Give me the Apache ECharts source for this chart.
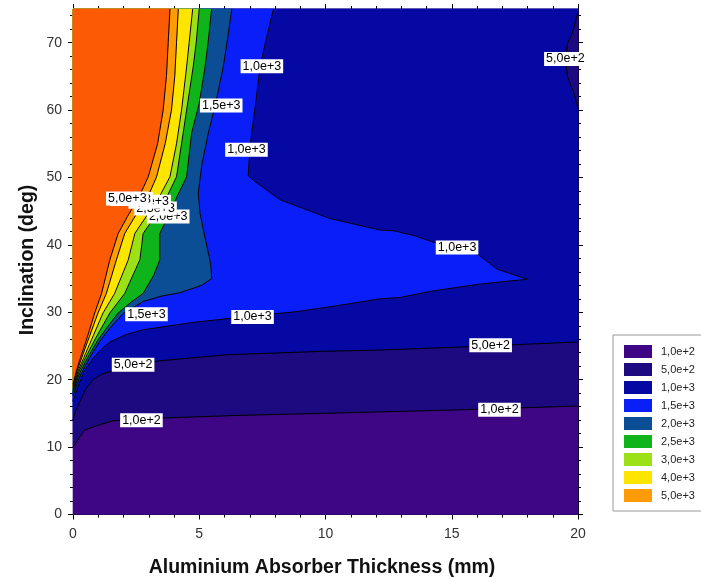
<!DOCTYPE html>
<html><head><meta charset="utf-8">
<script src="https://cdn.jsdelivr.net/npm/echarts/dist/echarts.min.js"></script>
<style>html,body{margin:0;padding:0;background:#fff}#c{width:701px;height:578px}</style>
</head><body><div id="c"></div>
<script>
// ---- data ----
const levelNames = ['1,0e+2','5,0e+2','1,0e+3','1,5e+3','2,0e+3','2,5e+3','3,0e+3','4,0e+3','5,0e+3'];
const bandColors = ['#3e0685','#1e0a80','#0508a2','#0a1ef8','#0b4e96','#0eb41a','#9be116','#fde500','#fe9b05'];
const topColor = '#fc5a04';
const xTicks = [0,5,10,15,20];
const yTickLabels = [0,10,20,30,40,50,60,70];
const yMinorTicks = [2,4,6,8,12,14,16,18,22,24,26,28,32,34,36,38,42,44,46,48,52,54,56,58,62,64,66,68,72,74];

// contour lines [thickness mm, inclination deg]
const c100 = [[0,10.0],[0.27,11.5],[0.46,12.5],[0.79,13.0],[1.59,13.9],[3.44,14.3],[6.5,14.7],[9.79,15.0],[15.07,15.5],[20,16.1]];
const c500 = [[0,14.0],[0.1,15.3],[0.27,16.7],[0.5,18.6],[0.79,20.0],[1.19,20.9],[2.2,22.0],[3.44,22.8],[6.09,23.7],[9.79,24.2],[12.17,24.4],[15.7,24.9],[20,25.6]];
const c500corner = [[20,60.3],[19.84,62.5],[19.58,65.0],[19.51,67.4],[19.58,69.9],[19.78,71.4],[20,74.6]];
const c1000 = [[0,16.8],[0.2,19.0],[0.45,21.3],[0.8,23.2],[1.15,24.6],[1.46,25.6],[2.1,26.7],[2.78,27.4],[3.84,28.0],[4.76,28.5],[6.22,29.1],[7.5,29.6],[8.87,30.1],[10.5,31.0],[12.17,32.0],[12.96,32.2],[14.15,33.1],[16.14,34.2],[17.99,34.9],[16.8,36.4],[16.07,38.5],[15.2,39.6],[14.28,40.4],[13.5,41.4],[12.7,42.1],[12.17,42.2],[10.19,43.9],[8.2,46.7],[7.14,49.6],[6.94,50.3],[7.0,54.0],[7.08,56.6],[7.25,61.5],[7.41,66.4],[7.65,70.5],[7.94,75]];
const c1500 = [[0,17.6],[0.3,20.7],[0.7,23.5],[1.1,25.9],[1.5,27.8],[1.98,29.8],[2.78,31.6],[3.5,32.4],[4.23,32.9],[5.1,34.0],[5.49,35.0],[5.47,36.5],[5.42,37.8],[5.25,40.7],[5.03,44.7],[4.96,47.7],[5.1,51.8],[5.36,56.6],[5.65,61.0],[5.95,66.4],[6.1,70.0],[6.29,75]];
const c2000 = [[0,18.1],[0.25,20.9],[0.6,23.4],[0.99,25.9],[1.4,28.0],[1.79,29.9],[2.3,31.5],[2.78,32.8],[3.2,35.5],[3.44,37.8],[3.44,41.7],[3.8,44.5],[4.1,47.0],[4.5,50.1],[4.7,56.6],[5.0,61.0],[5.23,66.4],[5.35,70.0],[5.49,75]];
const c2500 = [[0,18.4],[0.22,21.1],[0.5,23.3],[0.86,25.9],[1.46,29.9],[2.05,32.8],[2.65,37.8],[2.78,41.7],[3.3,44.5],[3.7,47.0],[4.1,50.1],[4.3,55.0],[4.5,60.0],[4.76,66.4],[4.88,70.0],[5.0,75]];
const c3000 = [[0,18.7],[0.2,21.3],[0.42,23.2],[0.73,25.9],[1.19,29.9],[1.65,32.8],[2.19,37.8],[2.45,41.7],[2.95,44.5],[3.4,47.0],[3.84,50.1],[4.1,55.0],[4.3,60.0],[4.5,66.4],[4.6,70.0],[4.74,75]];
const c4000 = [[0,19.0],[0.17,21.4],[0.35,23.3],[0.6,25.9],[0.99,29.9],[1.32,32.8],[1.72,37.8],[2.05,41.7],[2.5,44.5],[2.95,47.0],[3.31,50.1],[3.65,55.0],[3.9,60.0],[4.03,65.0],[4.1,70.0],[4.17,75]];
const c5000 = [[0,19.3],[0.15,21.5],[0.3,23.3],[0.53,25.9],[0.86,29.9],[1.13,32.8],[1.46,37.8],[1.79,41.7],[2.2,44.5],[2.6,47.0],[2.98,50.1],[3.35,55.0],[3.57,60.0],[3.7,65.0],[3.77,70.0],[3.84,75]];

// contour labels [x, y, text]
const contourLabels = [
  [2.71,14.0,'1,0e+2'],[16.89,15.55,'1,0e+2'],
  [2.38,22.2,'5,0e+2'],[16.54,25.1,'5,0e+2'],[19.5,67.6,'5,0e+2'],
  [7.11,29.3,'1,0e+3'],[15.21,39.6,'1,0e+3'],[6.87,54.1,'1,0e+3'],[7.48,66.5,'1,0e+3'],
  [2.91,29.7,'1,5e+3'],[5.87,60.7,'1,5e+3'],
  [3.77,44.2,'2,0e+3'],[3.27,45.4,'2,5e+3'],[3.04,46.4,'3,0e+3'],[2.32,46.8,'4,0e+3'],[2.15,46.9,'5,0e+3']
];

// ---- chart ----
const FF = '"Liberation Sans", Arial, sans-serif';
const corner = [[20,75],[0,75]];
const regions = [
  {name: levelNames[0], color: bandColors[0], pts: [[0,0],[20,0],[20,75],[0,75]]},
  {name: levelNames[1], color: bandColors[1], pts: c100.concat(corner)},
  {name: levelNames[2], color: bandColors[2], pts: c500.concat(c500corner, corner)},
  {name: levelNames[3], color: bandColors[3], pts: c1000.concat([[0,75]])},
  {name: levelNames[4], color: bandColors[4], pts: c1500.concat([[0,75]])},
  {name: levelNames[5], color: bandColors[5], pts: c2000.concat([[0,75]])},
  {name: levelNames[6], color: bandColors[6], pts: c2500.concat([[0,75]])},
  {name: levelNames[7], color: bandColors[7], pts: c3000.concat([[0,75]])},
  {name: levelNames[8], color: bandColors[8], pts: c4000.concat([[0,75]])},
  {name: 'over', color: topColor, pts: c5000.concat([[0,75]])}
];
const series = [];
regions.forEach(function (r, i) {
  series.push({
    name: r.name, type: 'custom', coordinateSystem: 'cartesian2d',
    xAxisIndex: 0, yAxisIndex: 0, silent: true, z: 1 + i * 0.01,
    itemStyle: {color: r.color}, data: r.pts,
    renderItem: function (params, api) {
      if (params.dataIndex !== 0) return null;
      return {type: 'polygon', shape: {points: r.pts.map(function (p) { return api.coord(p); })},
        style: {fill: r.color, stroke: r.color, lineWidth: 0.6}};
    }
  });
});
[c100, c500, c500corner, c1000, c1500, c2000, c2500, c3000, c4000, c5000].forEach(function (c) {
  series.push({type: 'line', data: c, symbol: 'none', silent: true, z: 3,
    lineStyle: {color: '#000', width: 1}, xAxisIndex: 0, yAxisIndex: 0});
});
series.push({
  type: 'scatter', symbolSize: 0, silent: true, z: 5, xAxisIndex: 0, yAxisIndex: 0,
  itemStyle: {opacity: 1},
  data: contourLabels.map(function (l) { return {value: [l[0], l[1]], name: l[2]}; }),
  label: {show: true, position: 'inside', formatter: function (p) { return p.name; },
    backgroundColor: '#ffffff', opacity: 1, padding: [1, 2, 0, 2], color: '#000', fontSize: 12.5, fontFamily: FF}
});

const tickStyle = {color: '#000', width: 1};
function xAx(pos, showLabel) {
  return {type: 'value', min: 0, max: 20, interval: 5, position: pos,
    axisLine: {show: true, onZero: false, lineStyle: tickStyle},
    axisTick: {show: true, length: 5, lineStyle: tickStyle},
    minorTick: {show: true, splitNumber: 5, length: 3, lineStyle: tickStyle},
    splitLine: {show: false}, minorSplitLine: {show: false},
    axisLabel: {show: showLabel, fontSize: 14, color: '#333', margin: 13, fontFamily: FF,
      customValues: xTicks}};
}
function yAx(pos, major, showLabel, showLine) {
  return {type: 'value', min: 0, max: 75, interval: 5, position: pos,
    axisLine: {show: showLine, onZero: false, lineStyle: tickStyle},
    axisTick: {show: true, length: major ? 5 : 3, lineStyle: tickStyle,
      customValues: major ? yTickLabels : yMinorTicks},
    splitLine: {show: false},
    axisLabel: {show: showLabel, fontSize: 14, color: '#333', margin: 11, fontFamily: FF,
      customValues: yTickLabels}};
}

const chart = echarts.init(document.getElementById('c'), null, {renderer: 'canvas'});
chart.setOption({
  animation: false,
  backgroundColor: '#fff',
  grid: {left: 73, right: 123, top: 9, bottom: 63.5},
  xAxis: [xAx('bottom', true), xAx('top', false)],
  yAxis: [yAx('left', true, true, true), yAx('right', true, false, true),
          yAx('left', false, false, false), yAx('right', false, false, false)],
  legend: {
    orient: 'vertical', left: 613, top: 335, data: levelNames, icon: 'rect',
    itemWidth: 28, itemHeight: 13, itemGap: 5, selectedMode: false,
    padding: [10, 40, 9, 11], borderColor: '#999', borderWidth: 1,
    textStyle: {fontSize: 11, color: '#222', fontFamily: FF, padding: [0, 0, 0, 4]}
  },
  graphic: [
    {type: 'text', x: 322, y: 568, style: {text: 'Aluminium Absorber Thickness (mm)',
      font: 'bold 19.5px ' + FF, fill: '#111', align: 'center', verticalAlign: 'middle'}},
    {type: 'text', rotation: Math.PI / 2, x: 28, y: 260, style: {text: 'Inclination (deg)',
      font: 'bold 19.5px ' + FF, fill: '#111', align: 'center', verticalAlign: 'middle'}}
  ],
  series: series
});
</script></body></html>
